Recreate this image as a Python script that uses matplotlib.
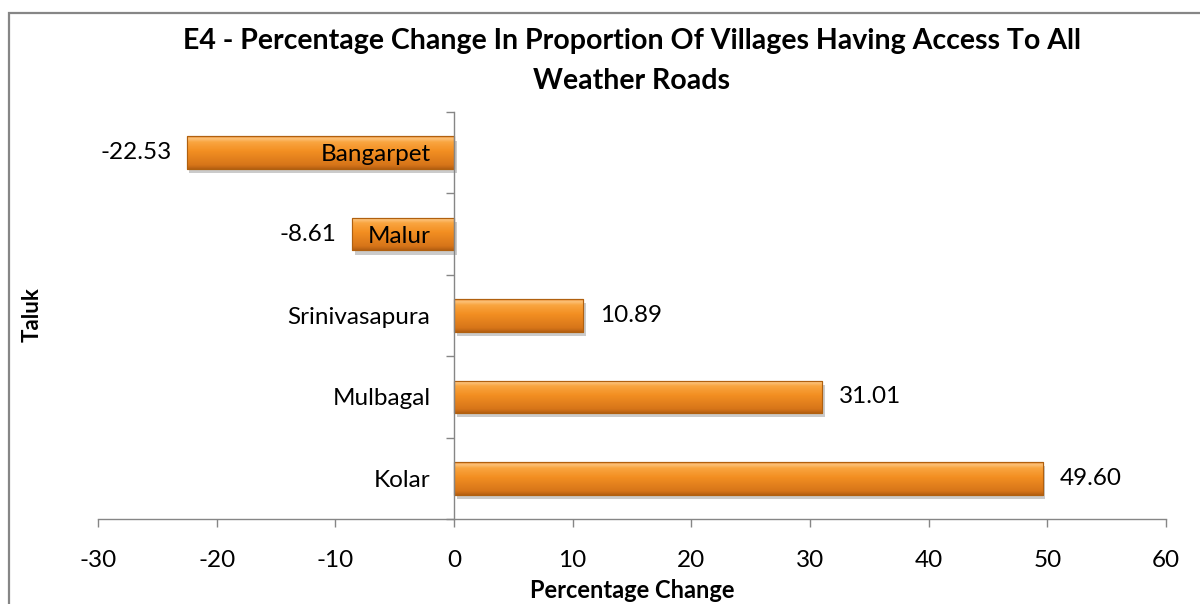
#!/usr/bin/env python3
"""E4 - percentage change in villages with all weather roads, by taluk."""

import matplotlib
matplotlib.use("Agg")
import matplotlib.pyplot as plt
import matplotlib.patheffects as pe
import numpy as np
from matplotlib.colors import LinearSegmentedColormap
from matplotlib.patches import Rectangle

plt.rcParams["font.family"] = ["Lato", "DejaVu Sans"]

# data, bottom to top
taluks = ["Kolar", "Mulbagal", "Srinivasapura", "Malur", "Bangarpet"]
change = [49.60, 31.01, 10.89, -8.61, -22.53]
value_labels = ["49.60", "31.01", "10.89", "-8.61", "-22.53"]
x_ticks = [-30, -20, -10, 0, 10, 20, 30, 40, 50, 60]

title = "E4 - Percentage Change In Proportion Of Villages Having Access To All\nWeather Roads"

W, H = 1200, 604
fig = plt.figure(figsize=(W / 100, H / 100), dpi=100)
ax = fig.add_axes([98 / W, 1 - 519 / H, (1166 - 98) / W, (519 - 112) / H])

grey = "#868686"
bar_cmap = LinearSegmentedColormap.from_list(
    "bevel",
    [(0.0, "#b45f12"), (0.12, "#d77519"), (0.55, "#f38f22"),
     (0.82, "#f9a540"), (0.93, "#fcc27a"), (1.0, "#e9882a")],
)
grad = np.linspace(0, 1, 128).reshape(-1, 1)

# bars kept below the axis artists so the category labels stay readable
ypos = np.arange(len(taluks))
bars = ax.barh(ypos, change, height=0.4, color="#f39123", edgecolor="#b0600f",
               linewidth=0.8, zorder=1)
for b in bars:
    b.set_path_effects([pe.SimplePatchShadow(offset=(2, -3), shadow_rgbFace="#999999",
                                             alpha=0.5), pe.Normal()])
    x0, y0, w, h = b.get_x(), b.get_y(), b.get_width(), b.get_height()
    im = ax.imshow(grad, cmap=bar_cmap, aspect="auto", origin="lower",
                   extent=(x0, x0 + w, y0, y0 + h), zorder=1.2, interpolation="bilinear")
    im.set_clip_path(b)
    ax.add_patch(Rectangle((x0, y0), w, h, fill=False, edgecolor="#b0600f",
                           linewidth=0.8, zorder=1.4))

for y, v, lab in zip(ypos, change, value_labels):
    if v < 0:
        ax.annotate(lab, (v, y), xytext=(-11, 0), textcoords="offset points",
                    ha="right", va="center", fontsize=17.5, zorder=5)
    else:
        ax.annotate(lab, (v, y), xytext=(12, 0), textcoords="offset points",
                    ha="left", va="center", fontsize=17.5, zorder=5)

ax.set_xlim(-30, 60)
ax.set_ylim(-0.5, len(taluks) - 0.5)
ax.set_xticks(x_ticks)
ax.set_xticklabels([str(t) for t in x_ticks], fontsize=17.5)
ax.tick_params(axis="x", direction="out", length=6, width=1, color=grey, pad=16)

# y axis sits at zero; ticks between categories, labels at the centres
ax.spines["left"].set_position(("data", 0))
ax.set_yticks(np.arange(-0.5, len(taluks), 1.0))
ax.set_yticklabels([])
ax.set_yticks(ypos, minor=True)
ax.set_yticklabels(taluks, minor=True, fontsize=17.5)
ax.tick_params(axis="y", which="major", direction="out", length=6, width=1, color=grey)
ax.tick_params(axis="y", which="minor", length=0, pad=17)

for side in ("top", "right"):
    ax.spines[side].set_visible(False)
for side in ("left", "bottom"):
    ax.spines[side].set_color(grey)
    ax.spines[side].set_linewidth(1)

ax.set_xlabel("Percentage Change", fontsize=17, fontweight="bold", labelpad=6)
fig.text(32 / W, 1 - 315 / H, "Taluk", rotation=90, ha="center", va="center",
         fontsize=16, fontweight="bold")
fig.text(632 / W, 1 - 28 / H, title, ha="center", va="top", fontsize=20.5,
         fontweight="bold", linespacing=1.65)

fig.patches.append(Rectangle((9 / W, -0.1), 1.2, 1.1 - 13 / H, transform=fig.transFigure,
                             fill=False, edgecolor=grey, linewidth=1.6))

fig.savefig("out.png", dpi=100)
